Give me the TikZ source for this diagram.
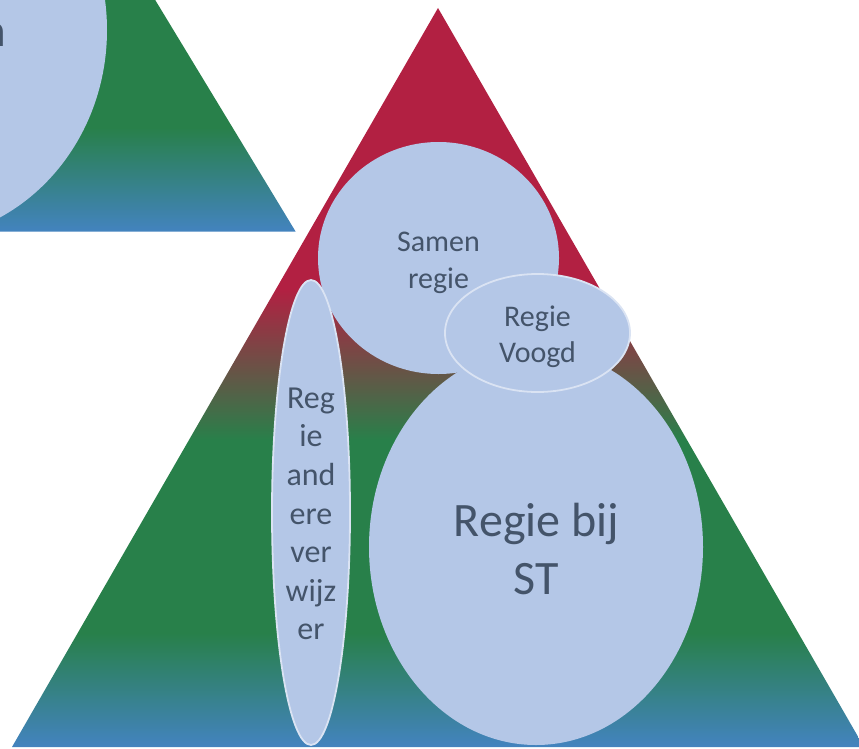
\documentclass[tikz,border=0pt]{standalone}
\usepackage{fontspec}
\setmainfont{Carlito}
\usetikzlibrary{shapes.geometric}
\definecolor{triR}{RGB}{178,32,66}
\definecolor{triG}{RGB}{40,128,74}
\definecolor{triB}{RGB}{67,131,191}
\definecolor{bubble}{HTML}{B4C7E7}
\definecolor{bubbleline}{HTML}{DAE3F3}
\definecolor{txt}{HTML}{44546A}
\pgfdeclareverticalshading{tri}{100bp}{color(0bp)=(triB); color(25bp)=(triB); color(32.7bp)=(triG); color(45.75bp)=(triG); color(56bp)=(triR); color(100bp)=(triR)}
\begin{document}
\begin{tikzpicture}[x=1pt,y=-1pt,
  bub/.style={ellipse, fill=bubble, inner sep=0pt},
  bubline/.style={draw=bubbleline, line width=1.8pt},
  lbl/.style={text=txt, align=center, inner sep=0pt}]
\useasboundingbox (0,0) rectangle (859,749);
\clip (0,0) rectangle (859,749);
% small triangle (cut off)
\shade[shading=tri] (-114,-444) -- (295.7,231.7) -- (-524,231.7) -- cycle;
\node[bub, minimum width=390pt, minimum height=420pt] (leftbub) at (-88,30) {};
\node[lbl, font=\fontsize{47}{56}\selectfont, anchor=base east] (leftlbl) at (6,47) {n};
% main triangle
\shade[shading=tri] (438,8) -- (864,747) -- (12,747) -- cycle;
\node[bub, minimum width=241pt, minimum height=232pt] (samen) at (438.5,258) {};
\node[bub, minimum width=334pt, minimum height=396pt] (st) at (536,547) {};
\node[bub, bubline, minimum width=185pt, minimum height=118pt] (voogd) at (537.5,333) {};
\node[bub, bubline, minimum width=78pt, minimum height=465pt] (verw) at (311,512.5) {};
\node[lbl, font=\fontsize{30}{36.5}\selectfont] (samenlbl) at (438.5,263) {Samen\\regie};
\node[lbl, font=\fontsize{30}{36.5}\selectfont] (voogdlbl) at (537.5,337) {Regie\\Voogd};
\node[lbl, font=\fontsize{48}{58}\selectfont] (stlbl) at (536.5,549) {Regie bij\\ST};
\node[lbl, font=\fontsize{32}{38.6}\selectfont] (verwlbl) at (311,514) {Reg\\ie\\and\\ere\\ver\\wijz\\er};
\end{tikzpicture}
\end{document}
